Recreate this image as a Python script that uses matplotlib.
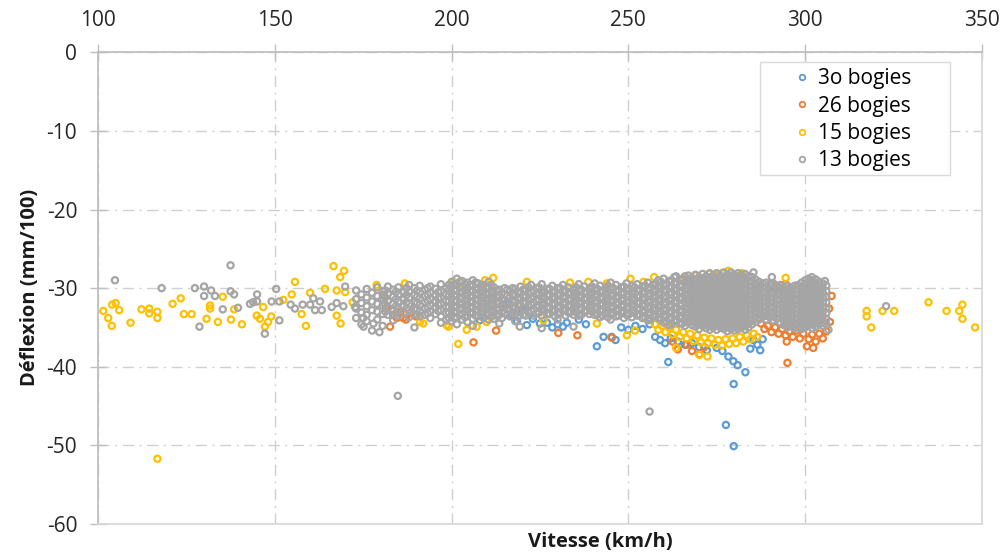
import numpy as np
import matplotlib.pyplot as plt
from matplotlib.lines import Line2D
from matplotlib.patches import Rectangle

# Couleurs des séries (style Excel)
c_bleu, c_orange, c_jaune, c_gris = '#5B9BD5', '#ED7D31', '#FFC000', '#A5A5A5'
noms = ['3o bogies', '26 bogies', '15 bogies', '13 bogies']

x_ticks = [100, 150, 200, 250, 300, 350]
y_ticks = [0, -10, -20, -30, -40, -50, -60]

# --- 30 bogies (bleu) : points visibles sous le nuage
bleu_pts = [(208, -34.1), (215.6, -32.1), (217, -33.4), (218.5, -34.2), (220, -32.8), (221.3, -34.7),
            (223, -33.9), (225, -34.5), (227, -34.4), (228.5, -35.0), (230, -34.6), (231.5, -34.9),
            (232.6, -34.4), (236, -34.0), (238, -34.6), (241.1, -37.4), (243.0, -36.2), (245.3, -36.2),
            (246.4, -36.6), (248, -35.0), (250, -35.3), (252, -34.8), (254, -35.2), (256, -34.6),
            (257.6, -36.2), (259, -36.6), (260.4, -37.0), (261.3, -39.4), (262, -36.4), (264, -36.8),
            (266, -37.2), (268, -37.0), (270, -37.5), (272.2, -37.9), (275.0, -37.6), (276.6, -38.0),
            (277.6, -47.4), (278.3, -38.7), (279.7, -39.3), (279.8, -42.2), (279.8, -50.1), (280.9, -39.8),
            (283.1, -40.7), (284.5, -37.7), (285.4, -36.6), (287.3, -37.9), (286.5, -37.2), (288, -36.5)]

# --- 26 bogies (orange)
orange_pts = [(180.6, -30.9), (181.5, -32.5), (182.6, -34.9), (183.5, -33.4), (184.5, -33.8), (185.5, -33.1),
              (186.3, -33.8), (187.1, -34.0), (188.3, -33.2), (190, -33.6), (206.2, -36.9), (212.6, -35.4),
              (230.2, -35.7), (235.6, -36.0), (245.3, -36.3), (262.5, -36.8), (264.0, -37.8), (266.5, -37.2),
              (268.0, -38.0), (270.1, -38.4), (271.5, -37.5), (287.5, -34.5), (288.5, -35.2), (289.5, -34.8),
              (290.5, -35.6), (291.5, -35.0), (292.5, -35.8), (293.5, -35.2), (294.5, -36.0), (294.8, -36.8),
              (295.0, -39.5), (295.5, -35.5), (296.5, -36.2), (297.5, -35.4), (298.5, -36.4), (299.5, -35.8),
              (300.5, -37.4), (301.0, -36.5), (302.3, -37.6), (302.0, -35.9), (303.0, -36.8), (304.0, -35.8),
              (305.0, -36.4), (306.0, -35.5), (307.0, -34.3), (307.5, -31.0), (306.8, -32.6), (290.5, -29.6),
              (292.5, -29.9), (294.5, -29.5), (296, -30.0)]

# --- 15 bogies (jaune)
jaune_pts = [(101.5, -32.9), (102.9, -33.8), (103.9, -34.8), (104.0, -32.1), (105.0, -31.9), (106.0, -32.8),
             (109.2, -34.4), (112.3, -32.7), (114.5, -32.6), (114.5, -33.2), (116.8, -33.0), (116.8, -33.8),
             (116.8, -51.7), (121.1, -32.0), (123.4, -31.3), (124.3, -33.3), (126.5, -33.3), (130.7, -33.9),
             (131.7, -32.2), (131.7, -32.6), (133.9, -34.3), (135.3, -31.1), (137.6, -34.0), (138.5, -32.7),
             (140.7, -34.6), (144.9, -33.5), (145.8, -33.9), (147.2, -34.9), (148.1, -34.3), (149.0, -33.6),
             (146.7, -32.4), (152.4, -31.5), (154.8, -30.8), (155.7, -29.2), (157.6, -33.3), (158.8, -34.8),
             (160.0, -30.6), (164.2, -30.1), (166.6, -27.2), (167.5, -30.3), (168.5, -28.6), (169.6, -27.8),
             (169.9, -30.5), (167.5, -33.5), (168.6, -34.5), (172.0, -31.8),
             # bord supérieur du nuage
             (178.8, -29.6), (186.8, -29.4), (200.5, -29.2), (201.6, -29.6), (209.5, -29.0), (211.8, -28.7),
             (221.3, -29.2), (233.5, -29.3), (238.7, -29.2), (243.9, -29.4), (250.6, -28.8), (254.3, -29.2),
             (257.3, -28.6), (265.5, -28.8), (268.9, -28.4), (272.8, -28.2), (274.6, -28.3), (276.5, -28.1),
             (278.3, -27.8), (282.1, -28.1), (294.5, -28.7),
             # bord inférieur du nuage
             (191.1, -34.3), (192.0, -34.5), (198.6, -34.7), (199.1, -34.9), (201.9, -37.1), (204.3, -35.3),
             (207.1, -34.9), (209.9, -34.3), (226, -34.1), (241.1, -34.5), (249.6, -36.0), (251.9, -35.4),
             (257.5, -34.6), (258.5, -35.3), (259.5, -34.8), (260.5, -35.6), (261.5, -35.0), (262.5, -35.9),
             (263.5, -37.6), (263.5, -35.3), (264.5, -36.2), (265.5, -35.6), (266.5, -36.4), (267.5, -35.8),
             (268.5, -36.7), (269.5, -36.0), (270.1, -38.5), (270.5, -36.9), (271.5, -36.3), (272.4, -38.7),
             (272.5, -37.0), (273.5, -36.4), (274.5, -37.2), (275.5, -36.6), (276.5, -37.3), (277.5, -36.5),
             (278.5, -37.1), (279.5, -36.4), (280.5, -37.0), (281.5, -36.2), (282.5, -36.8), (283.5, -36.0),
             (284.5, -36.5), (285.5, -35.8), (286.5, -36.2),
             # points isolés à droite
             (317.4, -32.9), (317.4, -33.6), (318.7, -35.0), (321.9, -32.9), (325.2, -32.9), (334.9, -31.8),
             (340.0, -32.9), (343.6, -32.9), (344.5, -32.1), (344.5, -33.9), (348.1, -35.0)]

# --- 13 bogies (gris) : points isolés
gris_pts = [(104.8, -29.0), (118.0, -30.0), (127.4, -30.0), (130.0, -29.8), (132.0, -30.3), (133.1, -31.0),
            (130.0, -31.0), (128.7, -34.9), (135.3, -32.7), (137.5, -27.1), (137.5, -30.4), (138.5, -30.8),
            (139.6, -32.5), (143.0, -32.0), (143.9, -31.8), (145.0, -30.8), (145.0, -31.7), (147.2, -35.8),
            (149.1, -31.7), (150.4, -30.1), (151.3, -31.7), (151.3, -34.1), (154.5, -32.1), (155.7, -32.6),
            (157.9, -32.1), (160.0, -32.1), (160.9, -31.3), (161.4, -32.8), (162.8, -31.7), (163.3, -32.8),
            (166.1, -32.4), (167.5, -31.9), (169.4, -32.3), (169.9, -29.8), (172.7, -32.4), (175.0, -33.8),
            (175.1, -34.9), (177.9, -34.5), (179.6, -35.6), (184.8, -43.7), (219.3, -34.9), (225.5, -35.1),
            (234.5, -34.9), (256.0, -45.7), (263.5, -28.5), (285.4, -28.0), (290.6, -28.6), (301.9, -28.6),
            (302.8, -28.9), (305.6, -29.1), (306.6, -35.3), (322.9, -32.3)]

# --- 13 bogies (gris) : nuage dense, par colonne de vitesse
gris_nuage = [
    (173, [-30.3, -31.4, -32.6, -33.8]),
    (174.5, [-30.8, -31.9, -33.1, -34.6]),
    (176, [-30.1, -31.2, -32.3, -33.4, -34.2]),
    (177.5, [-30.6, -31.7, -32.8, -35.4]),
    (179, [-29.9, -31.0, -32.0, -33.0, -34.0]),
    (180.5, [-30.4, -31.3, -32.2, -33.3, -34.8]),
    (181.25, [-30.3, -31.2, -32.1, -33.0]),
    (182, [-29.8, -30.7, -31.6, -32.5, -33.4]),
    (183.5, [-30.2, -31.1, -32.0, -32.9, -34.1]),
    (184.25, [-30.5, -31.4, -32.3, -33.2]),
    (185, [-29.9, -30.8, -31.7, -32.6, -33.5]),
    (186.5, [-30.5, -31.4, -32.3, -33.1]),
    (187.25, [-30.0, -30.9, -31.8, -32.6]),
    (188, [-29.6, -30.4, -31.2, -32.0, -32.8, -33.7]),
    (189.5, [-30.0, -30.9, -31.8, -32.7, -35.0]),
    (190.25, [-30.3, -31.1, -31.9, -32.7, -33.4]),
    (191, [-29.7, -30.5, -31.3, -32.1, -32.9, -33.6]),
    (192.5, [-30.2, -31.0, -31.8, -32.6, -33.4]),
    (193.25, [-30.0, -30.8, -31.6, -32.4, -33.2]),
    (194, [-29.8, -30.6, -31.4, -32.2, -33.0, -33.8]),
    (195.5, [-30.1, -30.9, -31.7, -32.5, -33.3]),
    (196.25, [-30.5, -31.3, -32.1, -32.9]),
    (197, [-29.5, -30.4, -31.2, -32.0, -32.8, -33.6, -34.4]),
    (198.5, [-30.0, -30.8, -31.6, -32.4, -33.2, -34.0]),
    (199.25, [-29.6, -30.3, -31.0, -31.7, -32.4, -33.1, -33.8]),
    (200, [-29.2, -29.9, -30.6, -31.3, -32.0, -32.7, -33.4, -34.2]),
    (200.8, [-29.5, -30.3, -31.0, -31.7, -32.4, -33.1, -33.8]),
    (201.5, [-28.8, -29.5, -30.2, -30.9, -31.6, -32.3, -33.0, -33.7, -34.6]),
    (202.3, [-29.2, -29.9, -30.6, -31.3, -32.0, -32.7, -33.4]),
    (203, [-29.1, -29.8, -30.5, -31.2, -31.9, -32.6, -33.3, -34.0]),
    (203.8, [-29.5, -30.2, -30.9, -31.6, -32.3, -33.0, -33.7]),
    (204.5, [-29.3, -30.0, -30.7, -31.4, -32.1, -32.8, -33.5, -34.3]),
    (205.3, [-29.6, -30.3, -31.0, -31.7, -32.4, -33.1]),
    (206, [-29.0, -29.7, -30.4, -31.1, -31.8, -32.5, -33.2, -33.9, -34.8]),
    (206.8, [-29.3, -30.0, -30.7, -31.4, -32.1, -32.8, -33.5]),
    (207.5, [-29.4, -30.1, -30.8, -31.5, -32.2, -32.9, -33.6]),
    (208.3, [-29.8, -30.5, -31.2, -31.9, -32.6, -33.3]),
    (209, [-29.6, -30.3, -31.0, -31.7, -32.4, -33.1, -33.8]),
    (209.75, [-29.9, -30.6, -31.3, -32.0, -32.7, -33.4]),
    (210.5, [-29.2, -30.0, -30.8, -31.6, -32.4, -33.2, -34.0]),
    (211.25, [-29.6, -30.4, -31.2, -32.0, -32.8, -33.6]),
    (212, [-29.9, -30.7, -31.5, -32.3, -33.1, -33.9]),
    (212.75, [-30.3, -31.1, -31.9, -32.7, -33.5]),
    (213.5, [-30.2, -31.0, -31.8, -32.6, -33.4, -34.5]),
    (214.25, [-30.6, -31.4, -32.2, -33.0, -33.8]),
    (215, [-30.0, -30.8, -31.6, -32.4, -33.2]),
    (215.75, [-30.2, -31.0, -31.8, -32.6, -33.4]),
    (216.5, [-30.4, -31.2, -32.0, -32.8, -33.6]),
    (217.25, [-30.0, -30.8, -31.6, -32.4, -33.2]),
    (218, [-30.1, -30.9, -31.7, -32.5, -33.3, -34.2]),
    (218.75, [-30.5, -31.3, -32.1, -32.9, -33.7]),
    (219.5, [-29.8, -30.6, -31.4, -32.2, -33.0]),
    (220.25, [-30.2, -31.0, -31.8, -32.6, -33.4]),
    (221, [-30.3, -31.1, -31.9, -32.7, -33.5]),
    (221.75, [-29.9, -30.7, -31.5, -32.3, -33.1]),
    (222.5, [-29.6, -30.5, -31.3, -32.1, -32.9]),
    (223.25, [-30.3, -31.1, -31.9, -32.7, -33.5]),
    (224, [-30.0, -30.8, -31.6, -32.4, -33.2]),
    (224.75, [-29.9, -30.7, -31.5, -32.3, -33.1]),
    (225.5, [-29.5, -30.3, -31.1, -31.9, -32.7, -33.5]),
    (226.25, [-30.5, -31.3, -32.1, -32.9]),
    (227, [-30.1, -30.9, -31.7, -32.5, -33.3]),
    (227.75, [-30.1, -30.9, -31.7, -32.5, -33.3]),
    (228.5, [-29.7, -30.5, -31.3, -32.1, -32.9]),
    (229.25, [-30.4, -31.2, -32.0, -32.8, -33.6]),
    (230, [-30.0, -30.8, -31.6, -32.4, -33.2, -34.0]),
    (230.75, [-30.0, -30.8, -31.6, -32.4, -33.2]),
    (231.5, [-29.6, -30.4, -31.2, -32.0, -32.8]),
    (232.25, [-30.3, -31.1, -31.9, -32.7, -33.5]),
    (233, [-29.9, -30.7, -31.5, -32.3, -33.1]),
    (233.75, [-30.6, -31.4, -32.2, -33.0]),
    (234.5, [-30.2, -31.0, -31.8, -32.6, -33.4]),
    (235.25, [-29.9, -30.7, -31.5, -32.3, -33.1]),
    (236, [-29.5, -30.3, -31.1, -31.9, -32.7, -33.5]),
    (236.75, [-30.2, -31.0, -31.8, -32.6, -33.4]),
    (237.5, [-29.8, -30.6, -31.4, -32.2, -33.0]),
    (238.25, [-30.5, -31.3, -32.1, -32.9]),
    (239, [-30.1, -30.9, -31.7, -32.5, -33.3]),
    (239.75, [-29.8, -30.6, -31.4, -32.2, -33.0]),
    (240.5, [-29.4, -30.2, -31.0, -31.8, -32.6, -33.4]),
    (241.25, [-30.1, -30.9, -31.7, -32.5, -33.3]),
    (242, [-29.7, -30.5, -31.3, -32.1, -32.9, -33.7]),
    (242.75, [-30.4, -31.2, -32.0, -32.8, -33.5]),
    (243.5, [-30.0, -30.8, -31.6, -32.4, -33.2]),
    (244.25, [-29.7, -30.5, -31.3, -32.1, -32.9, -33.7]),
    (245, [-29.3, -30.1, -30.9, -31.7, -32.5, -33.3, -34.0]),
    (245.75, [-30.0, -30.8, -31.6, -32.4, -33.2]),
    (246.5, [-29.6, -30.4, -31.2, -32.0, -32.8, -33.6]),
    (247.25, [-30.3, -31.1, -31.9, -32.7, -33.5]),
    (248, [-29.9, -30.7, -31.5, -32.3, -33.1]),
    (248.75, [-29.8, -30.6, -31.4, -32.2, -33.0, -33.8]),
    (249.5, [-29.4, -30.2, -31.0, -31.8, -32.6, -33.4]),
    (250.25, [-30.1, -30.9, -31.7, -32.5, -33.3]),
    (251, [-29.7, -30.5, -31.3, -32.1, -32.9, -33.7]),
    (251.75, [-29.9, -30.7, -31.5, -32.3, -33.1]),
    (252.5, [-29.5, -30.3, -31.1, -31.9, -32.7, -33.5]),
    (253.25, [-30.2, -31.0, -31.8, -32.6, -33.4]),
    (254, [-29.8, -30.6, -31.4, -32.2, -33.0, -33.8]),
    (254.75, [-29.7, -30.5, -31.3, -32.1, -32.9, -33.7]),
    (255.5, [-29.3, -30.1, -30.9, -31.7, -32.5, -33.3, -34.1]),
    (256.25, [-30.0, -30.8, -31.6, -32.4, -33.2, -34.0]),
    (257, [-29.6, -30.4, -31.2, -32.0, -32.8, -33.6]),
    (257.75, [-29.4, -30.2, -31.0, -31.8, -32.6, -33.4]),
    (258.5, [-29.0, -29.8, -30.6, -31.4, -32.2, -33.0, -33.8]),
    (259.25, [-29.2, -30.0, -30.8, -31.6, -32.4, -33.2, -34.0]),
    (260, [-28.8, -29.6, -30.4, -31.2, -32.0, -32.8, -33.6, -34.4]),
    (260.75, [-29.5, -30.3, -31.1, -31.9, -32.7, -33.5, -34.3]),
    (261.5, [-29.1, -29.9, -30.7, -31.5, -32.3, -33.1, -33.9, -34.7]),
    (262.25, [-29.0, -29.8, -30.6, -31.4, -32.2, -33.0, -33.8, -34.6]),
    (263, [-28.6, -29.4, -30.2, -31.0, -31.8, -32.6, -33.4, -34.2]),
    (263.75, [-29.3, -30.1, -30.9, -31.7, -32.5, -33.3, -34.1]),
    (264.5, [-28.9, -29.7, -30.5, -31.3, -32.1, -32.9, -33.7, -34.5]),
    (265.25, [-28.9, -29.7, -30.5, -31.3, -32.1, -32.9, -33.7, -34.5]),
    (266, [-28.5, -29.3, -30.1, -30.9, -31.7, -32.5, -33.3, -34.1, -34.8]),
    (267, [-28.4, -29.0, -29.6, -30.2, -30.8, -31.4, -32.0, -32.6, -33.2, -33.8, -34.4]),
    (268, [-28.7, -29.3, -29.9, -30.5, -31.1, -31.7, -32.3, -32.9, -33.5, -34.1, -34.7]),
    (269, [-28.3, -28.9, -29.5, -30.1, -30.7, -31.3, -31.9, -32.5, -33.1, -33.7, -34.3, -34.9]),
    (270, [-28.6, -29.2, -29.8, -30.4, -31.0, -31.6, -32.2, -32.8, -33.4, -34.0, -34.6, -35.2]),
    (271, [-28.2, -28.8, -29.4, -30.0, -30.6, -31.2, -31.8, -32.4, -33.0, -33.6, -34.2, -34.8]),
    (272, [-28.5, -29.1, -29.7, -30.3, -30.9, -31.5, -32.1, -32.7, -33.3, -33.9, -34.5, -35.1]),
    (273, [-28.1, -28.7, -29.3, -29.9, -30.5, -31.1, -31.7, -32.3, -32.9, -33.5, -34.1, -34.7, -35.3]),
    (274, [-28.4, -29.0, -29.6, -30.2, -30.8, -31.4, -32.0, -32.6, -33.2, -33.8, -34.4, -35.0]),
    (275, [-28.1, -28.7, -29.3, -29.9, -30.5, -31.1, -31.7, -32.3, -32.9, -33.5, -34.1, -34.7, -35.3]),
    (276, [-28.4, -29.0, -29.6, -30.2, -30.8, -31.4, -32.0, -32.6, -33.2, -33.8, -34.4, -35.0]),
    (277, [-28.0, -28.6, -29.2, -29.8, -30.4, -31.0, -31.6, -32.2, -32.8, -33.4, -34.0, -34.6, -35.2]),
    (278, [-28.3, -28.9, -29.5, -30.1, -30.7, -31.3, -31.9, -32.5, -33.1, -33.7, -34.3, -34.9, -35.5]),
    (279, [-28.0, -28.6, -29.2, -29.8, -30.4, -31.0, -31.6, -32.2, -32.8, -33.4, -34.0, -34.6, -35.2]),
    (280, [-28.3, -28.9, -29.5, -30.1, -30.7, -31.3, -31.9, -32.5, -33.1, -33.7, -34.3, -34.9, -35.4]),
    (281, [-28.1, -28.7, -29.3, -29.9, -30.5, -31.1, -31.7, -32.3, -32.9, -33.5, -34.1, -34.7, -35.2]),
    (282, [-28.4, -29.0, -29.6, -30.2, -30.8, -31.4, -32.0, -32.6, -33.2, -33.8, -34.4, -35.0]),
    (283, [-28.2, -28.8, -29.4, -30.0, -30.6, -31.2, -31.8, -32.4, -33.0, -33.6, -34.2, -34.8, -35.3]),
    (284, [-28.5, -29.1, -29.7, -30.3, -30.9, -31.5, -32.1, -32.7, -33.3, -33.9, -34.5, -35.0]),
    (285, [-28.6, -29.2, -29.8, -30.4, -31.0, -31.6, -32.2, -32.8, -33.4, -34.0, -34.6]),
    (286, [-28.9, -29.5, -30.1, -30.7, -31.3, -31.9, -32.5, -33.1, -33.7, -34.3]),
    (287, [-29.2, -29.8, -30.4, -31.0, -31.6, -32.2, -32.8, -33.4, -34.0]),
    (288, [-29.4, -30.0, -30.6, -31.2, -31.8, -32.4, -33.0, -33.6]),
    (289, [-29.3, -29.9, -30.5, -31.1, -31.7, -32.3, -32.9, -33.5, -34.0]),
    (290, [-29.5, -30.1, -30.7, -31.3, -31.9, -32.5, -33.1, -33.7]),
    (291, [-29.4, -30.0, -30.6, -31.2, -31.8, -32.4, -33.0, -33.6, -34.1]),
    (292, [-29.7, -30.3, -30.9, -31.5, -32.1, -32.7, -33.3, -33.9]),
    (293, [-29.6, -30.2, -30.8, -31.4, -32.0, -32.6, -33.2, -33.8, -34.4]),
    (294, [-29.9, -30.5, -31.1, -31.7, -32.3, -32.9, -33.5, -34.1, -34.7]),
    (295, [-29.7, -30.3, -30.9, -31.5, -32.1, -32.7, -33.3, -33.9, -34.5, -35.0]),
    (296, [-30.0, -30.6, -31.2, -31.8, -32.4, -33.0, -33.6, -34.2, -34.8]),
    (297, [-29.7, -30.3, -30.9, -31.5, -32.1, -32.7, -33.3, -33.9, -34.5, -35.1]),
    (298, [-29.6, -30.2, -30.8, -31.4, -32.0, -32.6, -33.2, -33.8, -34.4, -35.0]),
    (299, [-29.3, -29.9, -30.5, -31.1, -31.7, -32.3, -32.9, -33.5, -34.1, -34.7, -35.2]),
    (300, [-29.0, -29.6, -30.2, -30.8, -31.4, -32.0, -32.6, -33.2, -33.8, -34.4, -35.0]),
    (301, [-28.8, -29.4, -30.0, -30.6, -31.2, -31.8, -32.4, -33.0, -33.6, -34.2, -34.8]),
    (302, [-29.1, -29.7, -30.3, -30.9, -31.5, -32.1, -32.7, -33.3, -33.9, -34.5, -35.1]),
    (303, [-28.9, -29.5, -30.1, -30.7, -31.3, -31.9, -32.5, -33.1, -33.7, -34.3, -34.9]),
    (304, [-29.2, -29.8, -30.4, -31.0, -31.6, -32.2, -32.8, -33.4, -34.0, -34.6]),
    (305, [-29.4, -30.0, -30.6, -31.2, -31.8, -32.4, -33.0, -33.6, -34.2, -34.8]),
    (306, [-29.7, -30.4, -31.1, -31.8, -32.5, -33.2, -33.9, -34.6]),
]

bleu = np.array(bleu_pts)
orange = np.array(orange_pts)
jaune = np.array(jaune_pts)
gris = np.array(gris_pts + [(x, y) for x, ys in gris_nuage for y in ys])

plt.rcParams['font.family'] = ['Open Sans', 'DejaVu Sans']
plt.rcParams['axes.unicode_minus'] = False

fig = plt.figure(figsize=(10.05, 5.56), dpi=100)
ax = fig.add_axes([0.0975, 0.0576, 0.8795, 0.8484])

style = dict(s=20, facecolors='none', linewidths=1.6)
ax.scatter(bleu[:, 0], bleu[:, 1], edgecolors=c_bleu, zorder=3, **style)
ax.scatter(orange[:, 0], orange[:, 1], edgecolors=c_orange, zorder=4, **style)
ax.scatter(jaune[:, 0], jaune[:, 1], edgecolors=c_jaune, zorder=5, **style)
ax.scatter(gris[:, 0], gris[:, 1], edgecolors=c_gris, zorder=6, **style)

ax.set_xlim(100, 350)
ax.set_ylim(-60, 0)
ax.set_xticks(x_ticks)
ax.set_yticks(y_ticks)
ax.xaxis.tick_top()
ax.tick_params(axis='x', direction='inout', length=11, width=1, color='#BFBFBF',
               labelsize=15, pad=10, labelcolor='#262626')
ax.tick_params(axis='y', direction='inout', length=12, width=1, color='#BFBFBF',
               labelsize=15, pad=9, labelcolor='#262626')

ax.grid(True, color='#D0D0D0', linestyle='-.', linewidth=1, dashes=(8, 4, 1.5, 4))
ax.set_axisbelow(True)
for s in ['top', 'left']:
    ax.spines[s].set_color('#BFBFBF')
    ax.spines[s].set_linewidth(1.3)
for s in ['bottom', 'right']:
    ax.spines[s].set_color('#D9D9D9')
    ax.spines[s].set_linewidth(1.3)

fig.text(0.597, 0.025, 'Vitesse (km/h)', fontsize=14.5, fontweight='bold',
         ha='center', va='center', color='#1A1A1A')
fig.text(0.03, 0.483, 'Déflexion (mm/100)', fontsize=14.5, fontweight='bold',
         rotation=90, ha='center', va='center', color='#1A1A1A')

# cadre de la légende (style Excel, plus large que le contenu)
ax.add_patch(Rectangle((0.749, 0.739), 0.215, 0.240, transform=ax.transAxes, facecolor='white',
                       edgecolor='#D9D9D9', linewidth=1, zorder=9))
handles = [Line2D([], [], linestyle='none', marker='o', markersize=4, markerfacecolor='none',
                  markeredgecolor=c, markeredgewidth=1.3)
           for c in [c_bleu, c_orange, c_jaune, c_gris]]
leg = ax.legend(handles, noms, loc='upper left', bbox_to_anchor=(0.787, 0.966), fontsize=15,
                frameon=False, handlelength=0.8, handletextpad=0.35, labelspacing=0.3,
                borderpad=0, borderaxespad=0)
leg.set_zorder(10)

fig.savefig('out.png', dpi=100, facecolor='white')
